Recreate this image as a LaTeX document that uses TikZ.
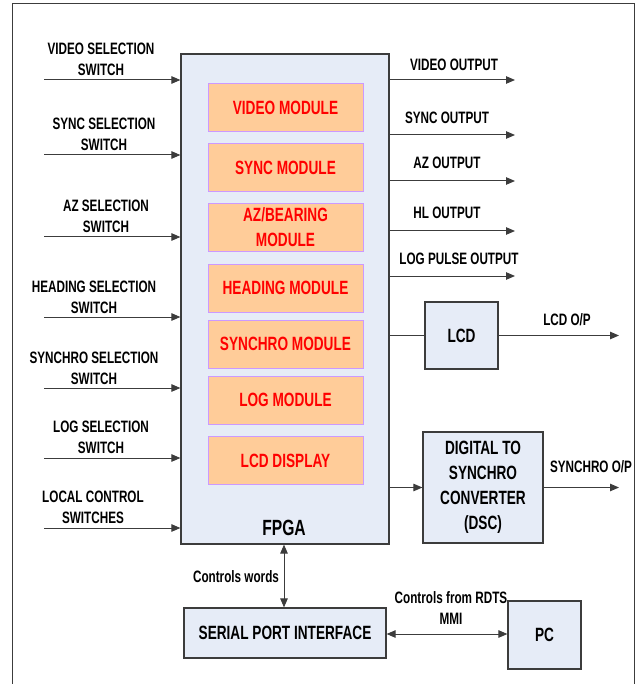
\documentclass[tikz,border=0pt]{standalone}
\usepackage{fontspec}
\setmainfont{Liberation Sans}[FakeStretch=0.71]
\usetikzlibrary{arrows.meta}
\definecolor{fpgafill}{RGB}{230,236,247}
\definecolor{modfill}{RGB}{255,204,153}
\definecolor{modline}{RGB}{204,153,255}
\definecolor{lineg}{RGB}{60,60,60}
\definecolor{modtext}{RGB}{255,0,0}
\begin{document}
\begin{tikzpicture}[x=1pt,y=-1pt,
 box/.style={draw=lineg, line width=1.2pt, fill=fpgafill, inner sep=0pt, align=center, font=\fontsize{19.2}{25}\selectfont\bfseries},
 modbox/.style={draw=modline, line width=1pt, fill=modfill, minimum width=155pt, minimum height=48pt, inner sep=0pt, align=center, text=modtext, font=\fontsize{19.2}{25}\selectfont\bfseries},
 lbl/.style={inner sep=0pt, align=center, font=\fontsize{16.5}{21}\selectfont\bfseries},
 arr/.style={draw=lineg, line width=1pt, -{Triangle[length=9pt,width=7.5pt]}},
 darr/.style={draw=lineg, line width=1pt, {Triangle[length=9pt,width=7.5pt]}-{Triangle[length=9pt,width=7.5pt]}},
 conn/.style={draw=lineg, line width=1pt}]
\useasboundingbox (0,0) rectangle (636,684);
\draw[lineg, line width=1pt] (12,690) -- (12,4) -- (634,4) -- (634,690);

% FPGA
\node[box, minimum width=208pt, minimum height=490pt] (fpga) at (285,299) {};
\node[lbl, font=\fontsize{22}{24}\selectfont\bfseries] (fpgalbl) at (284,528) {FPGA};

% modules
\node[modbox] (m1) at (285.5,107.5) {VIDEO MODULE};
\node[modbox] (m2) at (285.5,167.5) {SYNC MODULE};
\node[modbox] (m3) at (285.5,227.5) {AZ/BEARING\\MODULE};
\node[modbox] (m4) at (285.5,288) {HEADING MODULE};
\node[modbox] (m5) at (285.5,344) {SYNCHRO MODULE};
\node[modbox] (m6) at (285.5,400) {LOG MODULE};
\node[modbox] (m7) at (285.5,460.5) {LCD DISPLAY};

% other boxes
\node[box, minimum width=73pt, minimum height=67pt] (lcd) at (461.5,335.5) {LCD};
\node[box, minimum width=120pt, minimum height=111pt] (dsc) at (483,487.5) {DIGITAL TO\\SYNCHRO\\CONVERTER\\(DSC)};
\node[box, minimum width=202pt, minimum height=50pt] (spi) at (285,633) {SERIAL PORT INTERFACE};
\node[box, minimum width=73pt, minimum height=68pt] (pc) at (544.5,635) {PC};

% input labels
\node[lbl] (l1) at (101,59.5) {VIDEO SELECTION\\SWITCH};
\node[lbl] (l2) at (104,134.5) {SYNC SELECTION\\SWITCH};
\node[lbl] (l3) at (106,216) {AZ SELECTION\\SWITCH};
\node[lbl] (l4) at (94,297.5) {HEADING SELECTION\\SWITCH};
\node[lbl] (l5) at (94,368) {SYNCHRO SELECTION\\SWITCH};
\node[lbl] (l6) at (101,437) {LOG SELECTION\\SWITCH};
\node[lbl] (l7) at (93,507) {LOCAL CONTROL\\SWITCHES};

% input arrows
\coordinate (in1) at (44,80);
\coordinate (in2) at (44,155);
\coordinate (in3) at (44,237);
\coordinate (in4) at (44,317);
\coordinate (in5) at (44,388);
\coordinate (in6) at (44,458);
\coordinate (in7) at (44,528);
\foreach \i in {1,...,7} {\draw[arr] (in\i) -- (in\i -| fpga.west);}

% output labels
\node[lbl] (o1) at (454,65) {VIDEO OUTPUT};
\node[lbl] (o2) at (447,118) {SYNC OUTPUT};
\node[lbl] (o3) at (447,163) {AZ OUTPUT};
\node[lbl] (o4) at (447,213) {HL OUTPUT};
\node[lbl] (o5) at (459,259) {LOG PULSE OUTPUT};

% output arrows
\coordinate (out1) at (515,80);
\coordinate (out2) at (515,135);
\coordinate (out3) at (515,181);
\coordinate (out4) at (515,231);
\coordinate (out5) at (515,276);
\foreach \i in {1,...,5} {\draw[arr] (out\i -| fpga.east) -- (out\i);}

% LCD
\draw[conn] (fpga.east |- lcd.west) -- (lcd.west);
\coordinate (lcdout) at (619,335.5);
\draw[arr] (lcd.east) -- (lcdout);
\node[lbl] (lcdlbl) at (567,320) {LCD O/P};

% DSC
\draw[arr] (fpga.east |- dsc.west) -- (dsc.west);
\coordinate (dscout) at (619,487.5);
\draw[arr] (dsc.east) -- (dscout);
\node[lbl] (dsclbl) at (591,467) {SYNCHRO O/P};

% serial
\draw[darr] (fpga.south -| 284,0) -- (spi.north -| 284,0);
\node[lbl] (cw) at (236,577) {Controls words};
\draw[darr] (spi.east |- 0,634) -- (pc.west |- 0,634);
\node[lbl] (cr) at (451,608) {Controls from RDTS\\MMI};
\end{tikzpicture}
\end{document}
